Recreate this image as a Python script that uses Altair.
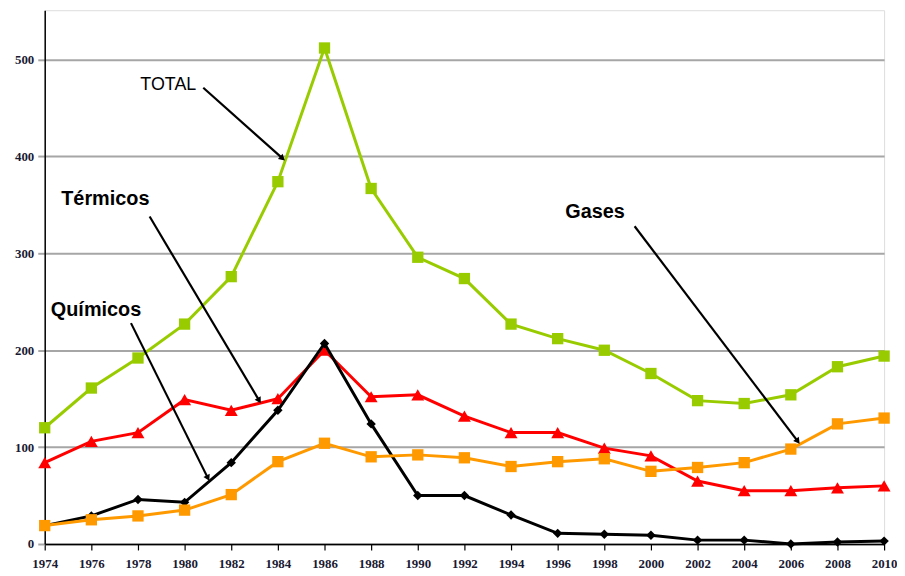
import math
import altair as alt
import pandas as pd

# ---- data ----
years = list(range(1974, 2011, 2))
total = [120, 161, 192, 227, 276, 374, 512, 367, 296, 274, 227, 212, 200, 176, 148, 145, 154, 183, 194]
termicos = [84, 106, 115, 149, 138, 150, 200, 152, 154, 132, 115, 115, 99, 91, 65, 55, 55, 58, 60]
gases = [19, 25, 29, 35, 51, 85, 104, 90, 92, 89, 80, 85, 88, 75, 79, 84, 98, 124, 130]
quimicos = [19, 29, 46, 43, 84, 138, 207, 124, 50, 50, 30, 11, 10, 9, 4, 4, 0, 2, 3]

series_names = ["TOTAL", "Térmicos", "Gases", "Químicos"]
series_values = [total, termicos, gases, quimicos]
series_colors = ["#99cc00", "#ff0000", "#ff9900", "#000000"]
series_shapes = ["square", "triangle-up", "square", "diamond"]
series_sizes = [130, 170, 130, 90]

# annotation labels (data coordinates)
ann_text = ["TOTAL", "Térmicos", "Químicos", "Gases"]
ann_x = [1979.3, 1976.6, 1976.2, 1997.6]
ann_y = [474, 356, 241, 343]
ann_weight = ["normal", "bold", "bold", "bold"]
ann_size = [18, 20, 20, 20]
arrow_x1 = [1980.8, 1978.5, 1977.7, 1999.3]
arrow_y1 = [471, 338, 228, 328]
arrow_x2 = [1984.2, 1983.2, 1981.0, 2006.3]
arrow_y2 = [398, 148, 68, 106]

W, H = 846, 538
X_DOM = [1974, 2010]
Y_DOM = [0, 551]
px_per_x = W / (X_DOM[1] - X_DOM[0])
px_per_y = H / (Y_DOM[1] - Y_DOM[0])

x_scale = alt.Scale(domain=X_DOM, nice=False, zero=False)
y_scale = alt.Scale(domain=Y_DOM, nice=False)

x_axis = alt.Axis(values=years, format="d", title=None, grid=False,
                  domainColor="#000000", domainWidth=1.5, tickColor="#000000",
                  tickSize=6, tickWidth=1.2, labelPadding=8,
                  labelFont="Liberation Serif", labelFontWeight="bold",
                  labelFontSize=13, labelColor="#1a1a33", labelFlush=False)
y_axis = alt.Axis(values=[0, 100, 200, 300, 400, 500], title=None, grid=True,
                  gridColor="#a6a6a6", gridWidth=2, domainColor="#000000",
                  domainWidth=1.5, tickColor="#a6a6a6", tickSize=7, tickWidth=2,
                  labelPadding=4, labelFont="Liberation Serif",
                  labelFontWeight="bold", labelFontSize=13, labelColor="#1a1a33")


def X(field):
    return alt.X(field, type="quantitative", scale=x_scale, axis=x_axis)


def Y(field):
    return alt.Y(field, type="quantitative", scale=y_scale, axis=y_axis)


rows = []
for name, vals in zip(series_names, series_values):
    for yr, v in zip(years, vals):
        rows.append({"serie": name, "year": yr, "value": v})
df = pd.DataFrame(rows)

base = alt.Chart(df)
layers = []

order = [0, 1, 3, 2]
for i in order:
    name = series_names[i]
    sub = base.transform_filter(alt.datum.serie == name)
    layers.append(sub.mark_line(color=series_colors[i], strokeWidth=3).encode(
        x=X("year"), y=Y("value")))
    layers.append(sub.mark_point(shape=series_shapes[i], filled=True, opacity=1,
                                 color=series_colors[i], size=series_sizes[i]).encode(
        x=X("year"), y=Y("value")))

# annotations
angles = []
for x1, y1, x2, y2 in zip(arrow_x1, arrow_y1, arrow_x2, arrow_y2):
    dx = (x2 - x1) * px_per_x
    dy = -(y2 - y1) * px_per_y
    angles.append((math.degrees(math.atan2(dx, -dy)) + 360) % 360)

ann = pd.DataFrame({"text": ann_text, "x": ann_x, "y": ann_y,
                    "weight": ann_weight, "size": ann_size,
                    "x1": arrow_x1, "y1": arrow_y1, "x2": arrow_x2, "y2": arrow_y2,
                    "angle": angles})

for w in ["normal", "bold"]:
    sub = ann[ann["weight"] == w]
    layers.append(alt.Chart(sub).mark_text(
        font="Liberation Sans", fontWeight=w, fontSize=int(sub["size"].iloc[0]),
        color="#000000", align="center", baseline="middle").encode(
        x=X("x"), y=Y("y"), text="text:N"))

layers.append(alt.Chart(ann).mark_rule(color="#000000", strokeWidth=2.2).encode(
    x=X("x1"), y=Y("y1"), x2="x2:Q", y2="y2:Q"))
layers.append(alt.Chart(ann).mark_point(shape="triangle-up", filled=True, opacity=1,
                                        color="#000000", size=50).encode(
    x=X("x2"), y=Y("y2"), angle=alt.Angle("angle:Q", scale=None)))

chart = alt.layer(*layers).properties(
    width=W, height=H,
    autosize=alt.AutoSizeParams(type="none"),
    padding={"left": 37, "top": 0, "right": 13, "bottom": 28},
).configure_view(stroke="#a6a6a6", strokeWidth=2).configure(background="#ffffff")

chart.save("out.html", embed_options={"renderer": "svg", "actions": False})
